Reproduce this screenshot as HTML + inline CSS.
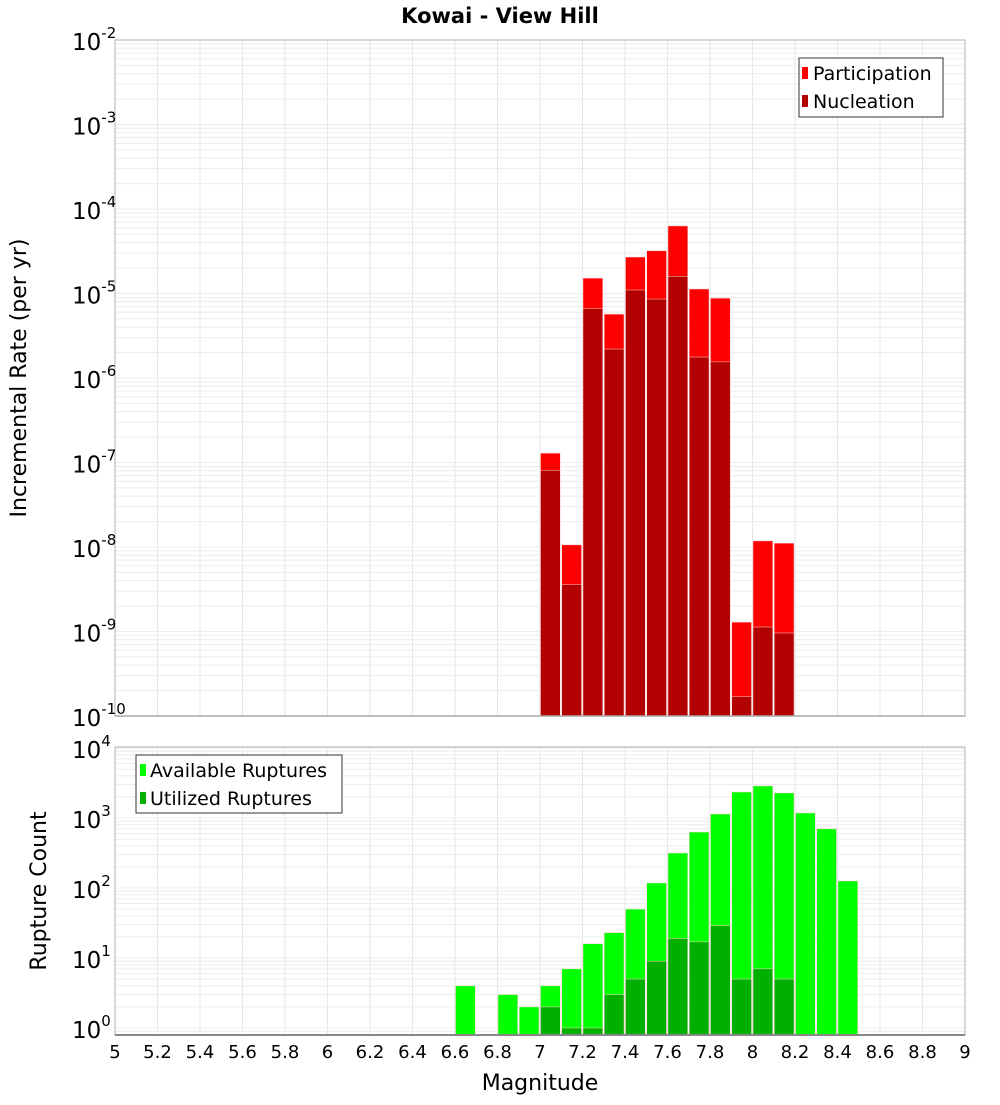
<!DOCTYPE html>
<html><head><meta charset="utf-8"><style>
body{margin:0;background:#fff;}
svg text{font-family:"DejaVu Sans","Liberation Sans",sans-serif;}
</style></head><body>
<svg id="chart" width="1000" height="1100" xmlns="http://www.w3.org/2000/svg">
<rect width="1000" height="1100" fill="#fff"/>
<text x="500" y="23" text-anchor="middle" font-size="21" font-weight="bold">Kowai - View Hill</text>
<g id="grid1"></g><g id="grid2"></g>
<g id="bars1"></g><g id="bars2"></g>
<rect x="115" y="40" width="850" height="676" fill="none" stroke="#b0b0b0"/>
<rect x="115" y="747" width="850" height="288" fill="none" stroke="#b0b0b0"/>
<line x1="115" y1="1035" x2="965" y2="1035" stroke="#888" stroke-width="2"/>
<line x1="115" y1="716" x2="965" y2="716" stroke="#aaa" stroke-width="1.5"/>
<g id="ticks"></g>
<text transform="translate(26,378) rotate(-90)" text-anchor="middle" font-size="22">Incremental Rate (per yr)</text>
<text transform="translate(46,891) rotate(-90)" text-anchor="middle" font-size="22">Rupture Count</text>
<text x="540" y="1090" text-anchor="middle" font-size="22">Magnitude</text>
<g>
<rect x="799" y="58" width="144" height="59" fill="#fff" stroke="#333"/>
<rect x="802" y="67" width="6" height="12" fill="#ff0000"/>
<text x="813" y="80" font-size="19">Participation</text>
<rect x="802" y="95" width="6" height="12" fill="#b30000"/>
<text x="813" y="108" font-size="19">Nucleation</text>
</g>
<g>
<rect x="136" y="755" width="206" height="58" fill="#fff" stroke="#333"/>
<rect x="140" y="764" width="6" height="12" fill="#00ff00"/>
<text x="150" y="777" font-size="19">Available Ruptures</text>
<rect x="140" y="792" width="6" height="12" fill="#00b000"/>
<text x="150" y="805" font-size="19">Utilized Ruptures</text>
</g>
</svg>
<script>
const topBins = [7.0,7.1,7.2,7.3,7.4,7.5,7.6,7.7,7.8,7.9,8.0,8.1];
const participation = [1.29e-7,1.06e-8,1.52e-5,5.7e-6,2.7e-5,3.2e-5,6.3e-5,1.13e-5,8.8e-6,1.29e-9,1.18e-8,1.11e-8];
const nucleation = [8.1e-8,3.6e-9,6.6e-6,2.2e-6,1.1e-5,8.6e-6,1.6e-5,1.77e-6,1.55e-6,1.7e-10,1.13e-9,9.6e-10];
const bottomBins = [6.6,6.8,6.9,7.0,7.1,7.2,7.3,7.4,7.5,7.6,7.7,7.8,7.9,8.0,8.1,8.2,8.3,8.4];
const available = [4,3,2,4,7,16,23,50,118,316,630,1140,2350,2870,2280,1180,700,126];
const utilizedBins = [7.0,7.1,7.2,7.3,7.4,7.5,7.6,7.7,7.8,7.9,8.0,8.1];
const utilized = [2,1,1,3,5,9,19,17,29,5,7,5];
const xTicks = ["5","5.2","5.4","5.6","5.8","6","6.2","6.4","6.6","6.8","7","7.2","7.4","7.6","7.8","8","8.2","8.4","8.6","8.8","9"];
const topExps = [-2,-3,-4,-5,-6,-7,-8,-9,-10];
const botExps = [4,3,2,1,0];
const binWidth = 0.1;

const NS="http://www.w3.org/2000/svg";
function x(m){return 115+(m-5)*212.5;}
function yTop(v){return 40+(-2-Math.log10(v))*84.5;}
function yBot(v){return 1028-Math.log10(v)*70;}
function mk(tag,attrs,parent){const e=document.createElementNS(NS,tag);for(const k in attrs)e.setAttribute(k,attrs[k]);document.getElementById(parent).appendChild(e);return e;}

// grids
for(let i=0;i<=20;i++){const xx=x(5+i*0.2);
 let l=mk('line',{x1:xx,x2:xx,y1:40,y2:716,stroke:'#e6e6e6'},'grid1');
 
 
 l=mk('line',{x1:xx,x2:xx,y1:747,y2:1035,stroke:'#e6e6e6'},'grid2');
 
 }
for(let e=-10;e<-2;e++)for(let k=1;k<10;k++){const yy=yTop(k*Math.pow(10,e));
 const l=mk('line',{x1:115,x2:965,y1:yy,y2:yy,stroke:'#ececec'},'grid1');
 
 }
for(let e=-1;e<5;e++)for(let k=1;k<10;k++){const yy=yBot(k*Math.pow(10,e));if(yy<747||yy>1035)continue;
 const l=mk('line',{x1:115,x2:965,y1:yy,y2:yy,stroke:'#ececec'},'grid2');
 
 }

function bar(parent,m,y,base,fill,name){
 const r=mk('rect',{x:x(m)+0.5,y:y,width:x(m+binWidth)-x(m)-1.5,height:Math.max(0,base-y),fill:fill,stroke:'#ffd0d0','stroke-width':0.5},parent);
 
 }
topBins.forEach((m,i)=>bar('bars1',m,yTop(participation[i]),716,'#ff0000','participation-bar'));
topBins.forEach((m,i)=>bar('bars1',m,yTop(nucleation[i]),716,'#b30000','nucleation-bar'));
bottomBins.forEach((m,i)=>bar('bars2',m,yBot(available[i]),1035,'#00ff00','available-bar'));
utilizedBins.forEach((m,i)=>bar('bars2',m,yBot(utilized[i]),1035,'#00b000','utilized-bar'));

xTicks.forEach((t,i)=>{const tx=mk('text',{x:x(5+i*0.2),y:1058,'text-anchor':'middle','font-size':18},'ticks');tx.textContent=t;
 
 });
function ylab(yy,e,name){
 const t=mk('text',{x:72,y:yy+10,'font-size':23},'ticks');
 
 
 t.textContent='10';
 const s=document.createElementNS(NS,'tspan');s.setAttribute('dy','-12');s.setAttribute('font-size','15');s.textContent=String(e);t.appendChild(s);}
topExps.forEach(e=>ylab(yTop(Math.pow(10,e)),e,'top-y-tick-label'));
botExps.forEach(e=>ylab(yBot(Math.pow(10,e)),e,'bottom-y-tick-label'));
</script>
</body></html>
